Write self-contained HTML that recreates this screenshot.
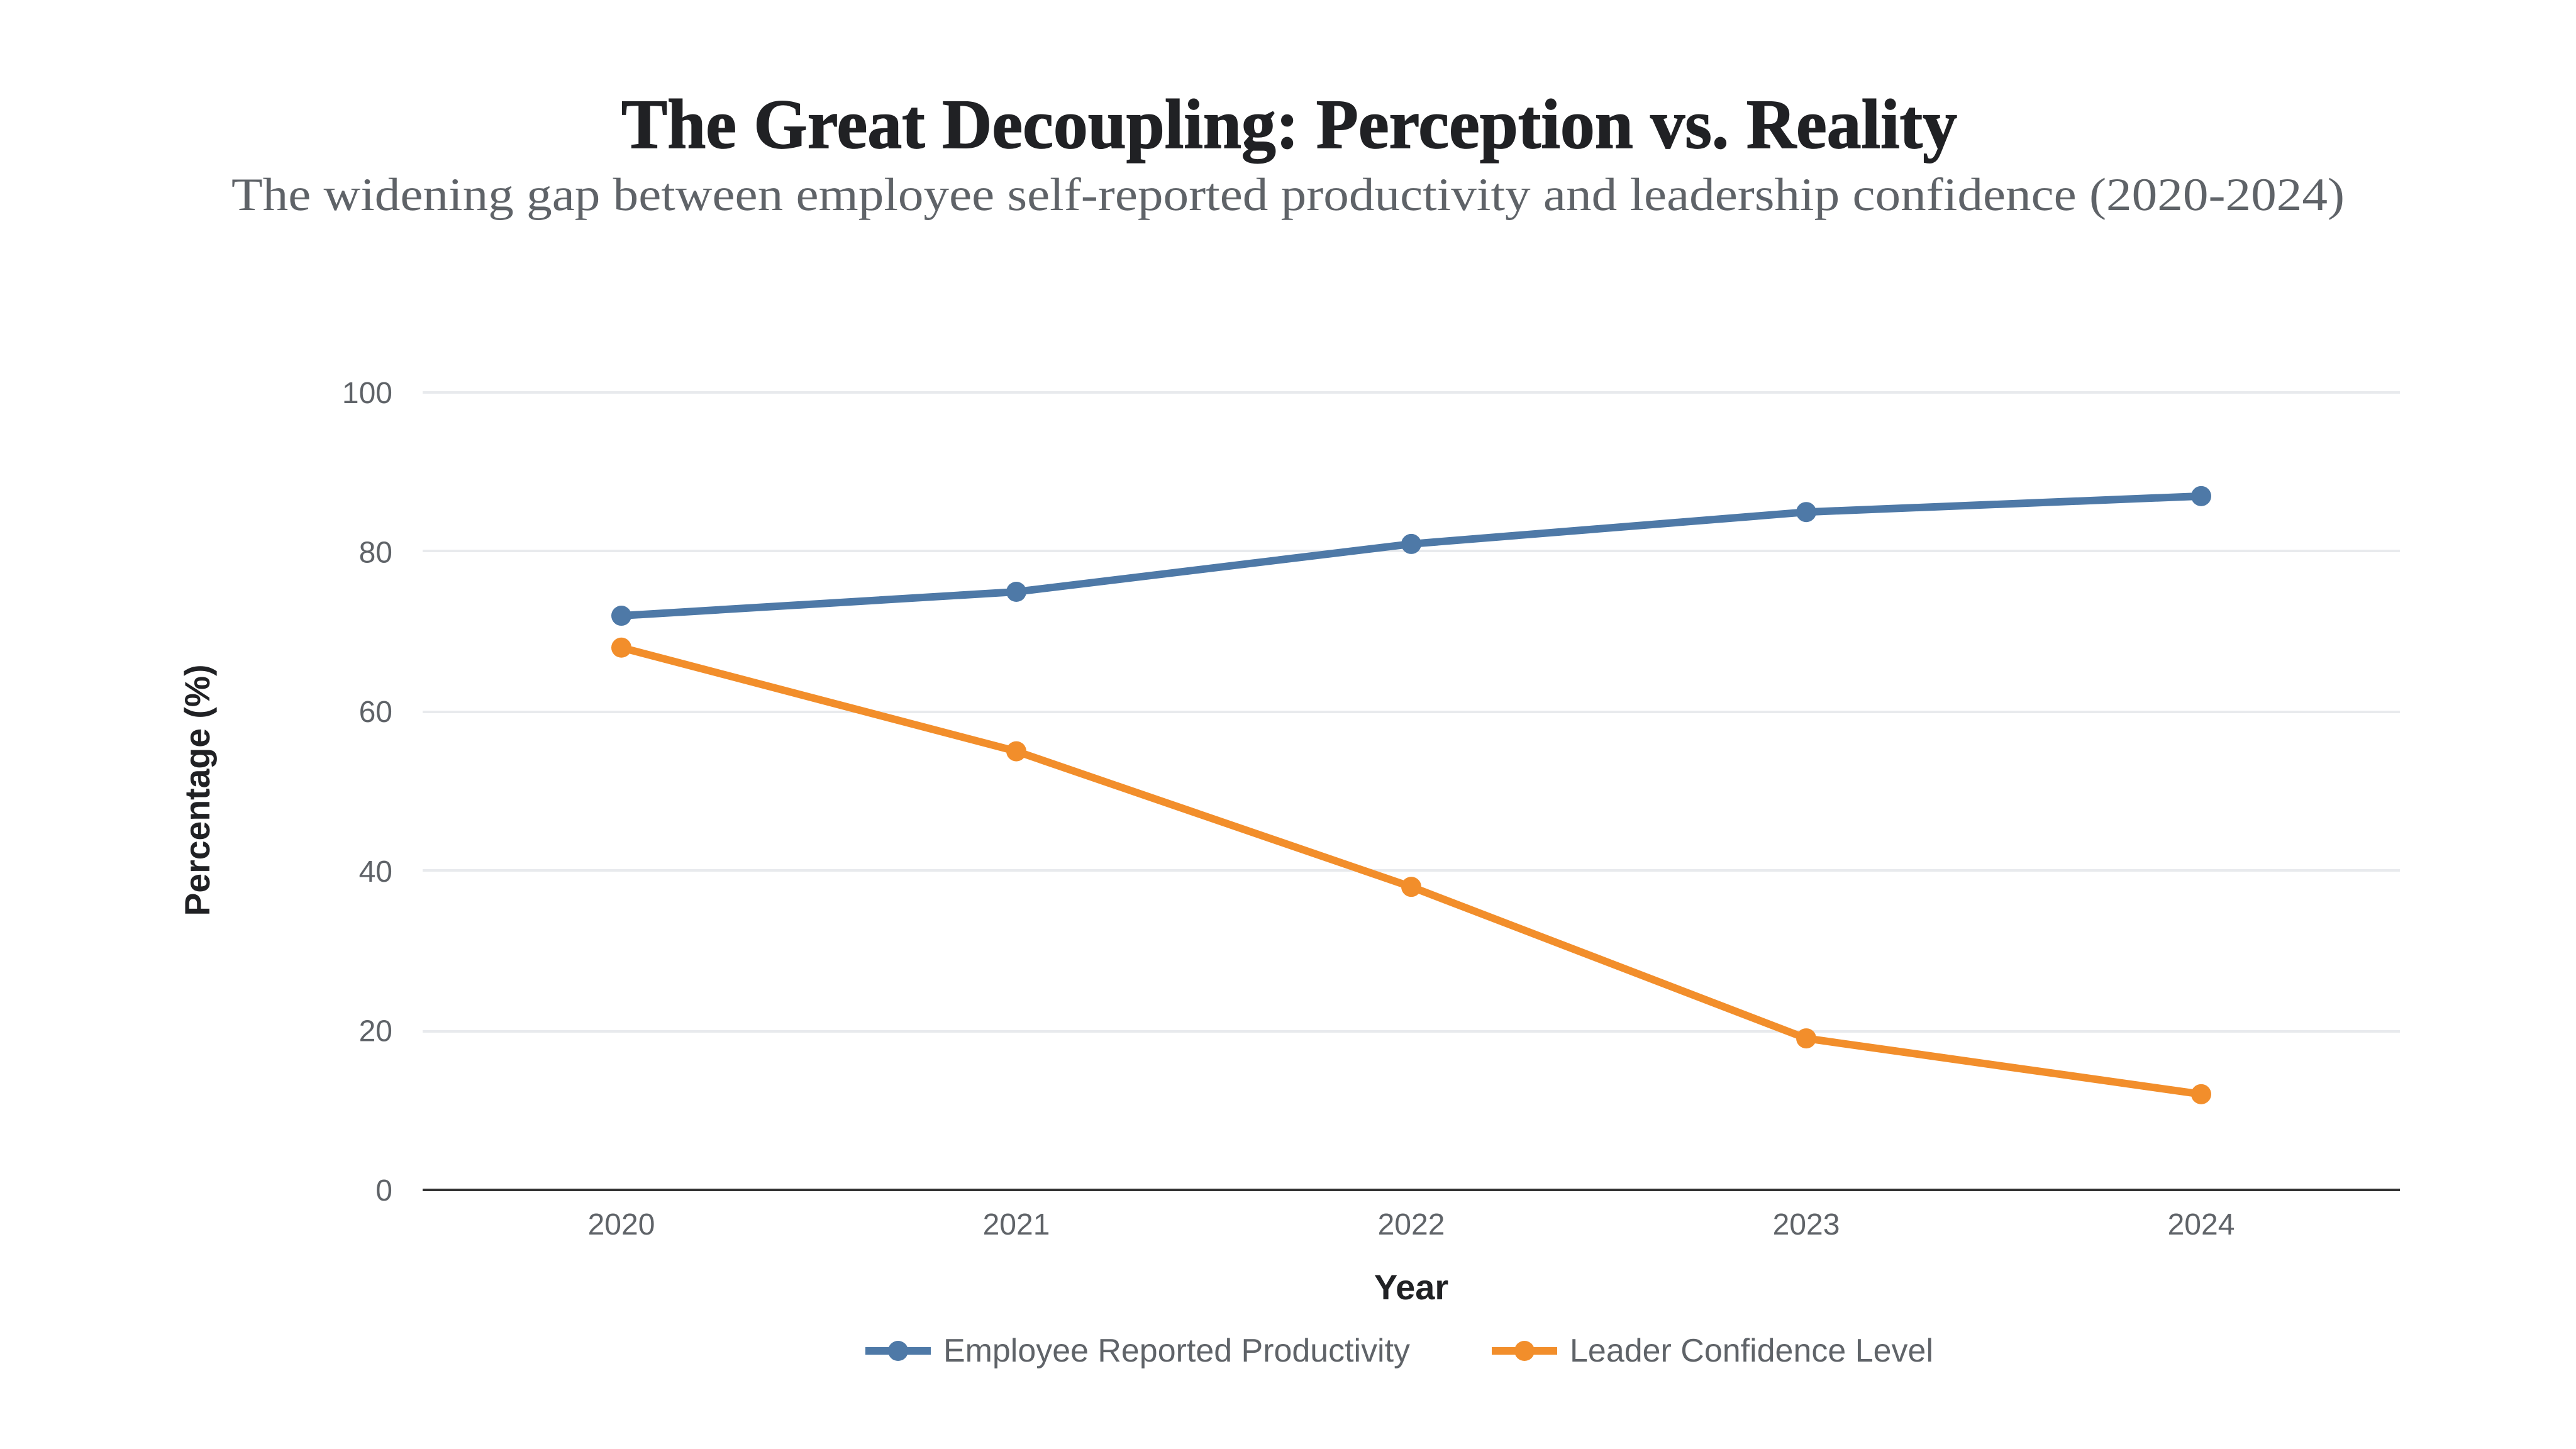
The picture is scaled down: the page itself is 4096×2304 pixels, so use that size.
<!DOCTYPE html>
<html lang="en">
<head>
<meta charset="utf-8">
<title>The Great Decoupling: Perception vs. Reality</title>
<style>
  html, body { margin: 0; padding: 0; background: #ffffff; width: 4096px; height: 2304px; overflow: hidden; }
  svg { display: block; text-rendering: geometricPrecision; }
  .sans { font-family: "Liberation Sans", Arial, sans-serif; }
  .serif { font-family: "Liberation Serif", "Times New Roman", serif; }
  .tick { font-size: 48px; fill: #5f6368; }
  .axis-title { font-size: 56px; font-weight: 700; fill: #202124; }
  .legend-label { font-size: 52px; fill: #5f6368; }
</style>
</head>
<body>
<svg id="chart" xmlns="http://www.w3.org/2000/svg" width="4096" height="2304" viewBox="0 0 4096 2304">
  <rect x="0" y="0" width="4096" height="2304" fill="#ffffff"/>
  <text class="serif" x="2050" y="235" text-anchor="middle" font-size="112" font-weight="700" fill="#202124" stroke="#202124" stroke-width="1.5" textLength="2124" lengthAdjust="spacingAndGlyphs">The Great Decoupling: Perception vs. Reality</text>
  <text class="serif" x="2048" y="334" text-anchor="middle" font-size="74" fill="#5f6368" textLength="3360" lengthAdjust="spacingAndGlyphs">The widening gap between employee self-reported productivity and leadership confidence (2020-2024)</text>

  <g id="grid"></g>
  <g id="y-ticks"></g>
  <g id="x-ticks"></g>
  <g id="series"></g>

  <text class="sans axis-title" transform="translate(333 1256.5) rotate(-90)" text-anchor="middle" textLength="400" lengthAdjust="spacingAndGlyphs">Percentage (%)</text>
  <text class="sans axis-title" x="2244" y="2066" text-anchor="middle">Year</text>

  <g>
    <line x1="1376" y1="2148" x2="1480" y2="2148" stroke="#4e79a7" stroke-width="12"/>
    <circle cx="1428" cy="2148" r="16" fill="#4e79a7"/>
    <text class="sans legend-label" x="1500" y="2165" textLength="742" lengthAdjust="spacingAndGlyphs">Employee Reported Productivity</text>
  </g>
  <g>
    <line x1="2372" y1="2148" x2="2476" y2="2148" stroke="#f28e2b" stroke-width="12"/>
    <circle cx="2424" cy="2148" r="16" fill="#f28e2b"/>
    <text class="sans legend-label" x="2496" y="2165" textLength="578" lengthAdjust="spacingAndGlyphs">Leader Confidence Level</text>
  </g>
</svg>

<script>
const years = ['2020', '2021', '2022', '2023', '2024'];
const employeeProductivity = [72, 75, 81, 85, 87];
const leaderConfidence = [68, 55, 38, 19, 12];
const yTickValues = [0, 20, 40, 60, 80, 100];

const SVG_NS = 'http://www.w3.org/2000/svg';
const plot = { left: 674, right: 3814, top: 624, bottom: 1892 };
const yMin = 0;
const yMax = 100;

function xScale(i) {
  return plot.left + (i + 0.5) * (plot.right - plot.left) / years.length;
}
function yScale(v) {
  return plot.bottom - (v - yMin) / (yMax - yMin) * (plot.bottom - plot.top);
}
function snap(px) {
  return Math.round(px / 4) * 4;
}
function make(tag, attrs, parent) {
  const el = document.createElementNS(SVG_NS, tag);
  for (const k in attrs) el.setAttribute(k, attrs[k]);
  parent.appendChild(el);
  return el;
}

const gridGroup = document.getElementById('grid');
const yTickGroup = document.getElementById('y-ticks');
const xTickGroup = document.getElementById('x-ticks');
const seriesGroup = document.getElementById('series');

yTickValues.forEach(function (v) {
  const y = snap(yScale(v));
  const gridline = make('line', {
    x1: plot.left - 2, x2: plot.right + 2, y1: y, y2: y,
    stroke: '#e8eaed', 'stroke-width': 4
  }, gridGroup);
  
  

  const label = make('text', {
    x: 624, y: yScale(v) + 17, 'text-anchor': 'end', class: 'sans tick'
  }, yTickGroup);
  label.textContent = String(v);
  
  
});

const baseline = make('line', {
  x1: plot.left - 2, x2: plot.right + 2, y1: snap(yScale(0)), y2: snap(yScale(0)),
  stroke: '#333333', 'stroke-width': 4
}, gridGroup);



years.forEach(function (year, i) {
  const label = make('text', {
    x: xScale(i), y: 1963, 'text-anchor': 'middle', class: 'sans tick'
  }, xTickGroup);
  label.textContent = year;
  
  
});

function drawSeries(values, color, key) {
  const pts = values.map(function (v, i) { return xScale(i) + ',' + yScale(v); }).join(' ');
  const line = make('polyline', {
    points: pts, fill: 'none', stroke: color, 'stroke-width': 12, 'stroke-linejoin': 'round'
  }, seriesGroup);
  
  

  values.forEach(function (v, i) {
    const point = make('circle', { cx: xScale(i), cy: yScale(v), r: 16, fill: color }, seriesGroup);
    
    
  });
}

drawSeries(employeeProductivity, '#4e79a7', 'employee');
drawSeries(leaderConfidence, '#f28e2b', 'leader');
</script>
</body>
</html>
